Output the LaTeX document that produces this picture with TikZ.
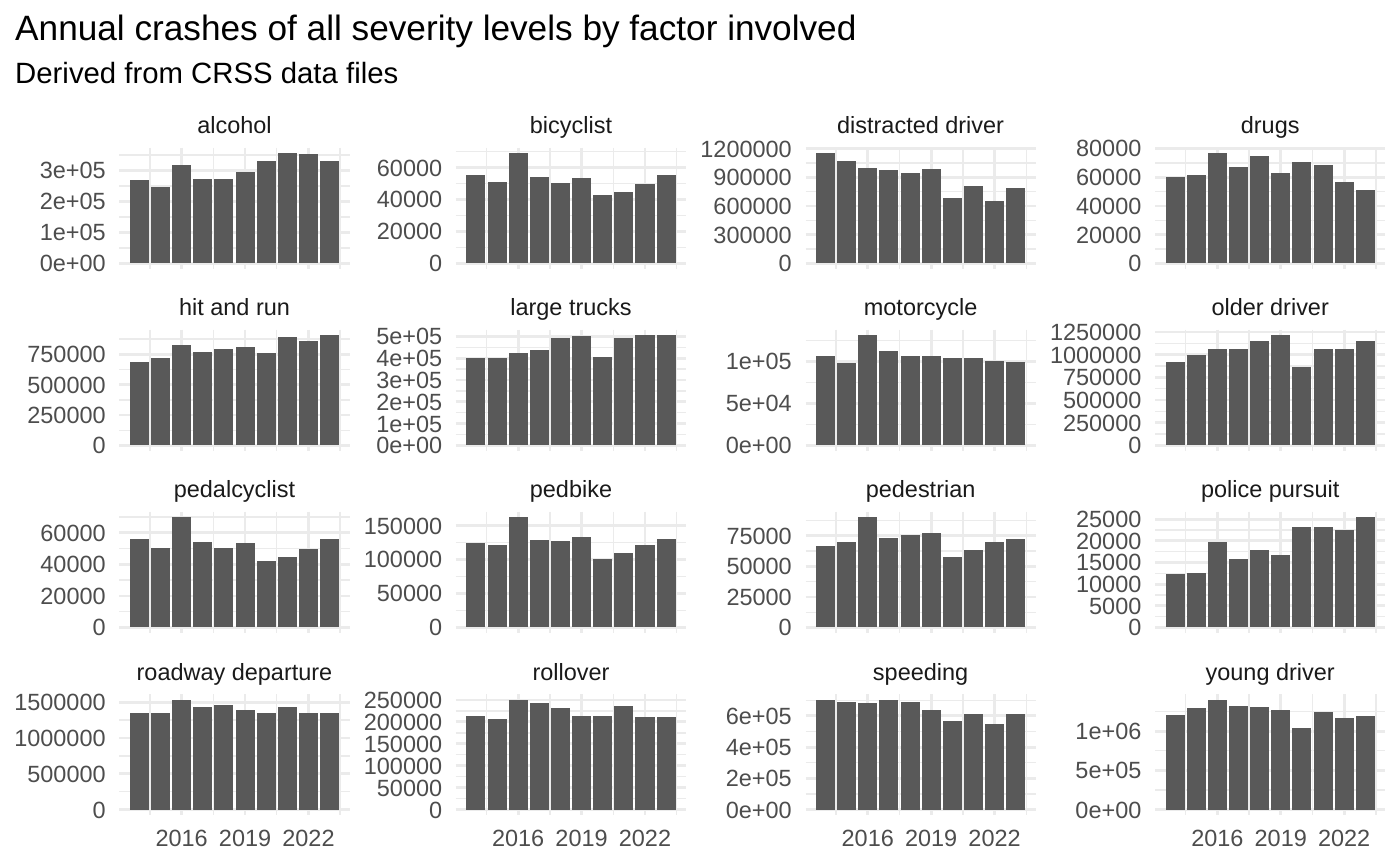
\documentclass[tikz,border=0pt]{standalone}
\usepackage{fontspec}
\setmainfont{Liberation Sans}
\definecolor{gridgrey}{HTML}{EBEBEB}
\definecolor{bargrey}{HTML}{595959}
\definecolor{axisgrey}{HTML}{4D4D4D}
\definecolor{stripgrey}{HTML}{1A1A1A}

\begin{document}
\begin{tikzpicture}[x=0.375pt,y=-0.375pt,
    facetbar/.style={fill=bargrey},
    majorgrid/.style={draw=gridgrey,line width=1.07pt},
    minorgrid/.style={draw=gridgrey,line width=0.53pt},
    ticklabel/.style={inner sep=0,text=axisgrey,font=\fontsize{8.8}{10}\selectfont},
    striplabel/.style={anchor=base,inner sep=0,text=stripgrey,font=\fontsize{8.8}{10}\selectfont}]
    \pgfmathsetmacro{\panelwidth}{230.2}
    \pgfmathsetmacro{\yearwidth}{\panelwidth/10.89}
    \pgfmathsetmacro{\barhalf}{0.45*\yearwidth}
    \pgfmathsetmacro{\barspan}{110}
    \pgfmathsetmacro{\colA}{119.4}
    \pgfmathsetmacro{\colB}{455.9}
    \pgfmathsetmacro{\colC}{805.5}
    \pgfmathsetmacro{\colD}{1155.1}
    \pgfmathsetmacro{\rowA}{263.3}
    \pgfmathsetmacro{\rowB}{445.4}
    \pgfmathsetmacro{\rowC}{627.5}
    \pgfmathsetmacro{\rowD}{809.6}
    \providecommand{\titlefontsize}{\fontsize{13.2}{16}\selectfont}
    \providecommand{\subtitlefontsize}{\fontsize{11}{13}\selectfont}
    % one facet: name, title, left, zero line, max, step, tick labels, values (in thousands)
    \providecommand{\facet}[8]{
        \pgfmathsetmacro{\unitpx}{\barspan/#5}
        \pgfmathsetmacro{\facettop}{#4-1.05*\barspan}
        \pgfmathsetmacro{\facetbot}{#4+0.05*\barspan}
        \pgfmathtruncatemacro{\nminor}{floor(1.05*#5/#6-0.5)}
        \foreach \k in {0,...,\nminor}
            \draw[minorgrid] (#3,{#4-(\k+0.5)*#6*\unitpx}) -- ++(\panelwidth,0);
        \foreach \k in {1.5,4.5,7.5,10.5}
            \draw[minorgrid] ({#3+(\k-0.055)*\yearwidth},\facettop) -- ({#3+(\k-0.055)*\yearwidth},\facetbot);
        \foreach \lab [count=\j from 0] in {#7} {
            \draw[majorgrid] (#3,{#4-\j*#6*\unitpx}) -- ++(\panelwidth,0);
            \node[ticklabel,anchor=base east] (#1-y\j) at ({#3-13.2},{#4-\j*#6*\unitpx+8.4}) {\lab};
        }
        \foreach \k in {3,6,9}
            \draw[majorgrid] ({#3+(\k-0.055)*\yearwidth},\facettop) -- ({#3+(\k-0.055)*\yearwidth},\facetbot);
        \foreach \v [count=\i] in {#8}
            \fill[facetbar] ({#3+(\i-0.055)*\yearwidth-\barhalf},#4) rectangle ({#3+(\i-0.055)*\yearwidth+\barhalf},{#4-\v*\unitpx});
        \node[striplabel] (#1) at ({#3+\panelwidth/2},{\facettop-14}) {#2};
    }
    \fill[white] (0,0) rectangle (1400,865);
    \useasboundingbox (0,0) rectangle (1400,865);
    \node[anchor=base west,inner sep=0,font=\titlefontsize] (title) at (14.7,40.4) {Annual crashes of all severity levels by factor involved};
    \node[anchor=base west,inner sep=0,font=\subtitlefontsize] (subtitle) at (14.7,84) {Derived from CRSS data files};
    % row 1
    \facet{alcohol}{alcohol}{\colA}{\rowA}{355}{100}{0e+00,1e+05,2e+05,3e+05}{268,247,318,271,271,294,329,355,352,329}
    \facet{bicyclist}{bicyclist}{\colB}{\rowA}{69}{20}{0,20000,40000,60000}{55.6,50.8,69,53.9,50.2,53.3,42.6,44.5,49.5,55.6}
    \facet{distracted}{distracted driver}{\colC}{\rowA}{1151}{300}{0,300000,600000,900000,1200000}{1151,1067,994,973,942,984,680,806,649,785}
    \facet{drugs}{drugs}{\colD}{\rowA}{76.7}{20}{0,20000,40000,60000,80000}{60,61.4,76.7,67,74.7,62.8,70.5,68.4,56.5,50.9}
    % row 2
    \facet{hitrun}{hit and run}{\colA}{\rowB}{906}{250}{0,250000,500000,750000}{690,724,831,773,798,807,757,890,856,906}
    \facet{trucks}{large trucks}{\colB}{\rowB}{505}{100}{0e+00,1e+05,2e+05,3e+05,4e+05,5e+05}{403,403,426,440,491,500,408,495,505,505}
    \facet{motorcycle}{motorcycle}{\colC}{\rowB}{131}{50}{0e+00,5e+04,1e+05}{107,97.6,131,113,106,107,103.6,103.6,100,98.8}
    \facet{older}{older driver}{\colD}{\rowB}{1213}{250}{0,250000,500000,750000,1000000,1250000}{925,1002,1058,1058,1146,1213,869,1058,1058,1146}
    % row 3
    \facet{pedalcyclist}{pedalcyclist}{\colA}{\rowC}{69.7}{20}{0,20000,40000,60000}{56.2,50.4,69.7,54.2,50.4,53.6,42,44.6,49.7,56.2}
    \facet{pedbike}{pedbike}{\colB}{\rowC}{162}{50}{0,50000,100000,150000}{124.6,121.6,162,129,127.6,133.6,100.7,109.7,121.6,130.6}
    \facet{pedestrian}{pedestrian}{\colC}{\rowC}{90}{25}{0,25000,50000,75000}{66.7,70,90,73.4,75.9,77.5,57.6,63.4,70,72.5}
    \facet{pursuit}{police pursuit}{\colD}{\rowC}{25.4}{5}{0,5000,10000,15000,20000,25000}{12.3,12.5,19.8,15.8,17.9,16.7,23.3,23.3,22.6,25.4}
    % row 4
    \facet{roadway}{roadway departure}{\colA}{\rowD}{1537}{500}{0,500000,1000000,1500000}{1343,1343,1537,1440,1468,1398,1356,1440,1343,1356}
    \facet{rollover}{rollover}{\colB}{\rowD}{250.8}{50}{0,50000,100000,150000,200000,250000}{214.5,207.7,250.8,244,232.6,214.5,214.5,237,212,210}
    \facet{speeding}{speeding}{\colC}{\rowD}{704}{200}{0e+00,2e+05,4e+05,6e+05}{704,691,685,704,691,640,564,615,551,609}
    \facet{young}{young driver}{\colD}{\rowD}{1401}{500}{0e+00,5e+05,1e+06}{1211,1300,1401,1325,1312,1274,1034,1249,1173,1186}
    % years under the bottom row
    \foreach \c [count=\n] in {\colA,\colB,\colC,\colD}
        \foreach \yy [count=\j] in {2016,2019,2022}
            \node[ticklabel,anchor=base] (year-\n-\yy) at ({\c+(3*\j-0.055)*\yearwidth},846) {\yy};
\end{tikzpicture}
\end{document}
